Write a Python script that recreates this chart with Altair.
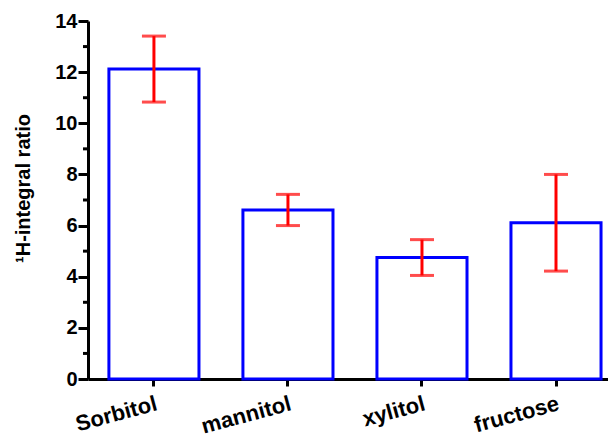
import altair as alt
import pandas as pd

categories = ["Sorbitol", "mannitol", "xylitol", "fructose"]
means = [12.12, 6.61, 4.75, 6.11]
errors = [1.29, 0.61, 0.70, 1.89]
major_ticks = [0, 2, 4, 6, 8, 10, 12, 14]
minor_ticks = [1, 3, 5, 7, 9, 11, 13]

df = pd.DataFrame({"cat": categories, "mean": means, "err": errors})
df["lo"] = df["mean"] - df["err"]
df["hi"] = df["mean"] + df["err"]
minor_df = pd.DataFrame({"v": minor_ticks})

FONT = "Liberation Sans"

x_scale = alt.Scale(domain=categories, paddingInner=0.328, paddingOuter=0.104, align=0.75)
y_scale = alt.Scale(domain=[0, 14], nice=False, zero=True)

x_enc = alt.X("cat:N", scale=x_scale, sort=categories,
              axis=alt.Axis(title=None, labelAngle=-15, labelAlign="right", labelBaseline="top",
                            labelFont=FONT, labelFontSize=22, labelFontWeight="bold",
                            labelColor="black", tickSize=7, labelPadding=7,
                            labelOverlap=False))

base = alt.Chart(df)

bars = base.mark_bar(fill="white", stroke="#0000FF", strokeWidth=3).encode(
    x=x_enc,
    y=alt.Y("mean:Q", scale=y_scale,
            axis=alt.Axis(title="¹H-integral ratio", values=major_ticks, tickSize=10,
                          labelFont=FONT, labelFontSize=20, labelFontWeight="bold",
                          labelColor="black", labelPadding=1,
                          titleFont=FONT, titleFontSize=20, titleFontWeight="bold",
                          titleColor="black", titleX=-55, titleY=167, titleAngle=270,
                          titleBaseline="bottom", titleAlign="center", grid=False)),
)

err_rule = base.mark_rule(color="#FF0000", strokeWidth=3).encode(
    x=alt.X("cat:N", scale=x_scale, sort=categories),
    y=alt.Y("lo:Q", scale=y_scale),
    y2="hi:Q",
)
cap_lo = base.mark_tick(color="#FF0000", thickness=3, size=24, orient="horizontal").encode(
    x=alt.X("cat:N", scale=x_scale, sort=categories),
    y=alt.Y("lo:Q", scale=y_scale),
)
cap_hi = base.mark_tick(color="#FF0000", thickness=3, size=24, orient="horizontal").encode(
    x=alt.X("cat:N", scale=x_scale, sort=categories),
    y=alt.Y("hi:Q", scale=y_scale),
)

minor = alt.Chart(minor_df).mark_rule(color="black", strokeWidth=3).encode(
    y=alt.Y("v:Q", scale=y_scale),
    x=alt.value(-5),
    x2=alt.value(0),
)

chart = alt.layer(bars, err_rule, cap_lo, cap_hi, minor).properties(
    width=520, height=358,
    autosize=alt.AutoSizeParams(type="none"),
    padding={"left": 80, "top": 13, "right": 0, "bottom": 60},
).configure_view(stroke=None).configure_axis(
    domainColor="black", domainWidth=3, tickColor="black", tickWidth=3, grid=False
)

chart.save("out.html", embed_options={"renderer": "svg", "actions": False})
